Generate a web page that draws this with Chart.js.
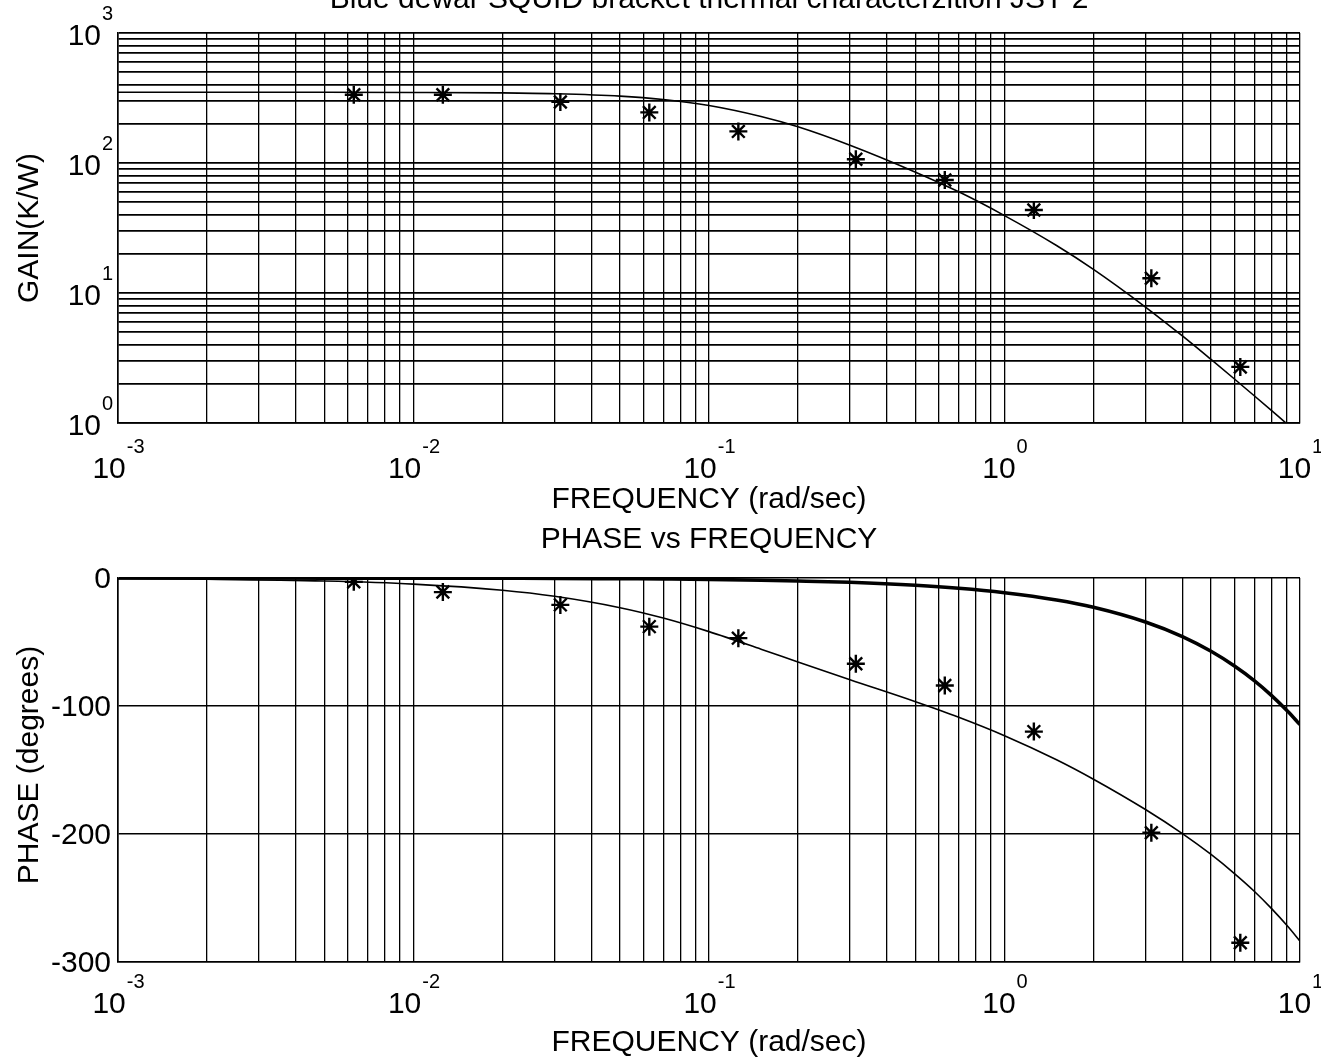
<!DOCTYPE html>
<html>
<head>
<meta charset="utf-8">
<script src="https://cdn.jsdelivr.net/npm/chart.js@4.4.0/dist/chart.umd.min.js"></script>
<style>
  body { margin: 0; background: #fff; }
  #wrap { position: relative; width: 1321px; height: 1063px; }
  canvas { position: absolute; left: 0; }
</style>
</head>
<body>
<div id="wrap">
  <canvas id="gainChart" width="1321" height="520" style="top:0"></canvas>
  <canvas id="phaseChart" width="1321" height="543" style="top:520px"></canvas>
</div>
<script>
const titleText = 'Blue dewar SQUID bracket thermal characterzition JST 2';
const phaseTitle = 'PHASE vs FREQUENCY';
const xTitle = 'FREQUENCY (rad/sec)';
const gainAxisTitle = 'GAIN(K/W)';
const phaseAxisTitle = 'PHASE (degrees)';

// measured points (rad/sec)
const freqMeas = [0.00628, 0.01257, 0.0314, 0.0628, 0.1257, 0.314, 0.628, 1.257, 3.14, 6.28];
const gainMeas = [335, 335, 295, 245, 175, 107, 74, 43.5, 13, 2.7];
const phaseMeas = [-3, -11, -21, -38, -47, -67, -84, -120, -199, -285];

// fitted curves
const freqFit = [0.001, 0.002, 0.005, 0.01, 0.02, 0.03, 0.05, 0.07, 0.1, 0.15, 0.2, 0.3, 0.5, 0.7, 1, 1.5, 2, 3, 4, 5, 6, 7, 8, 9.1, 10];
const gainFit = [350, 350, 350, 349, 346, 341, 327, 308, 277, 228, 190, 137, 85, 60, 39.4, 23.2, 15.2, 7.8, 4.67, 3.08, 2.18, 1.62, 1.25, 0.97, 0.81];
const phaseFit = [-0.5, -1.0, -2.4, -4.8, -9.6, -14.3, -23.2, -31.3, -41.9, -55.6, -65.6, -79.5, -96.7, -108.8, -123.2, -142.0, -157.2, -180.9, -199.7, -216.0, -230.9, -244.7, -258.1, -272.3, -283.7];
const phaseDelay = [0, 0, -0.1, -0.1, -0.2, -0.3, -0.6, -0.8, -1.1, -1.7, -2.3, -3.4, -5.7, -8.0, -11.5, -17.2, -22.9, -34.4, -45.8, -57.3, -68.8, -80.2, -91.7, -104.3, -114.6];

// axis ticks
const xTickExps = [-3, -2, -1, 0, 1];
const gainTickExps = [0, 1, 2, 3];
const phaseTicks = [0, -100, -200, -300];

const FONT = '"Liberation Sans", Arial, Helvetica, sans-serif';
const BIG = '30px ' + FONT;
const SUP = '20px ' + FONT;

// log grid: 1..9 in every decade
function logGrid(fromExp, toExp) {
    const vals = [];
    for (let e = fromExp; e < toExp; e++) {
        for (let m = 1; m < 10; m++) vals.push(m * Math.pow(10, e));
    }
    vals.push(Math.pow(10, toExp));
    return vals;
}

const pairs = (xs, ys) => xs.map((x, i) => ({ x: x, y: ys[i] }));

function drawPow(ctx, exp, x, baseY, anchor) {
    ctx.font = BIG;
    const bw = ctx.measureText('10').width;
    ctx.font = SUP;
    const sw = ctx.measureText(exp).width;
    const left = anchor === 'right' ? x - bw : x - (bw + sw) / 2;
    ctx.textAlign = 'left';
    ctx.textBaseline = 'alphabetic';
    ctx.font = BIG;
    ctx.fillText('10', left, baseY);
    ctx.font = SUP;
    ctx.fillText(exp, left + bw + 1, baseY - 25);
}

function rotatedText(ctx, text, cx, cy) {
    ctx.save();
    ctx.translate(cx, cy);
    ctx.rotate(-Math.PI / 2);
    ctx.textAlign = 'center';
    ctx.textBaseline = 'middle';
    ctx.font = BIG;
    ctx.fillText(text, 0, 0);
    ctx.restore();
}

const gainLabels = {
    id: 'gainLabels',
    afterDraw(chart) {
        const { ctx, scales: { x, y } } = chart;
        const mid = (x.left + x.right) / 2;
        ctx.save();
        ctx.fillStyle = '#000';
        xTickExps.forEach(e => drawPow(ctx, String(e), x.getPixelForValue(Math.pow(10, e)), y.bottom + 55, 'center'));
        gainTickExps.forEach(e => drawPow(ctx, String(e), x.left - 17, y.getPixelForValue(Math.pow(10, e)) + 12, 'right'));
        ctx.font = BIG;
        ctx.textAlign = 'center';
        ctx.textBaseline = 'alphabetic';
        ctx.fillText(titleText, mid, 8);
        ctx.fillText(xTitle, mid, y.bottom + 85);
        rotatedText(ctx, gainAxisTitle, 30, (y.top + y.bottom) / 2);
        ctx.restore();
    }
};

const phaseLabels = {
    id: 'phaseLabels',
    afterDraw(chart) {
        const { ctx, scales: { x, y } } = chart;
        const mid = (x.left + x.right) / 2;
        ctx.save();
        ctx.fillStyle = '#000';
        xTickExps.forEach(e => drawPow(ctx, String(e), x.getPixelForValue(Math.pow(10, e)), y.bottom + 51, 'center'));
        ctx.font = BIG;
        ctx.textAlign = 'right';
        ctx.textBaseline = 'middle';
        phaseTicks.forEach(v => ctx.fillText(String(v), x.left - 7, y.getPixelForValue(v) + 2));
        ctx.textAlign = 'center';
        ctx.textBaseline = 'alphabetic';
        ctx.fillText(phaseTitle, mid, 28);
        ctx.fillText(xTitle, mid, y.bottom + 89);
        rotatedText(ctx, phaseAxisTitle, 30, (y.top + y.bottom) / 2 - 5);
        ctx.restore();
    }
};

const starSet = (data) => ({
    data: data,
    showLine: false,
    pointStyle: 'star',
    pointRadius: 9,
    pointBorderWidth: 2.4,
    pointBorderColor: '#000',
    pointBackgroundColor: '#000'
});

const curveSet = (data, width) => ({
    data: data,
    showLine: true,
    borderColor: '#000',
    borderWidth: width,
    pointRadius: 0,
    cubicInterpolationMode: 'monotone'
});

const xAxis = {
    type: 'logarithmic',
    min: 0.001,
    max: 10,
    afterBuildTicks: (axis) => { axis.ticks = logGrid(-3, 1).map(v => ({ value: v })); },
    ticks: { display: false },
    grid: { color: '#000', lineWidth: 1.3, drawTicks: false },
    border: { display: true, color: '#000', width: 1.6 }
};

new Chart(document.getElementById('gainChart'), {
    type: 'scatter',
    data: {
        datasets: [
            curveSet(pairs(freqFit, gainFit), 1.6),
            starSet(pairs(freqMeas, gainMeas))
        ]
    },
    options: {
        responsive: false,
        animation: false,
        layout: { padding: { left: 118, top: 33, right: 21, bottom: 97 } },
        scales: {
            x: xAxis,
            y: {
                type: 'logarithmic',
                min: 1,
                max: 1000,
                afterBuildTicks: (axis) => { axis.ticks = logGrid(0, 3).map(v => ({ value: v })); },
                ticks: { display: false },
                grid: { color: '#000', lineWidth: 1.8, drawTicks: false },
                border: { display: true, color: '#000', width: 1.6 }
            }
        },
        plugins: {
            legend: { display: false },
            tooltip: { enabled: false }
        }
    },
    plugins: [gainLabels]
});

new Chart(document.getElementById('phaseChart'), {
    type: 'scatter',
    data: {
        datasets: [
            curveSet(pairs(freqFit, phaseDelay), 3.5),
            curveSet(pairs(freqFit, phaseFit), 1.6),
            starSet(pairs(freqMeas, phaseMeas))
        ]
    },
    options: {
        responsive: false,
        animation: false,
        layout: { padding: { left: 118, top: 58, right: 21, bottom: 101 } },
        scales: {
            x: xAxis,
            y: {
                type: 'linear',
                min: -300,
                max: 0,
                afterBuildTicks: (axis) => { axis.ticks = phaseTicks.map(v => ({ value: v })); },
                ticks: { display: false },
                grid: { color: '#000', lineWidth: 1.5, drawTicks: false },
                border: { display: true, color: '#000', width: 1.6 }
            }
        },
        plugins: {
            legend: { display: false },
            tooltip: { enabled: false }
        }
    },
    plugins: [phaseLabels]
});
</script>
</body>
</html>
